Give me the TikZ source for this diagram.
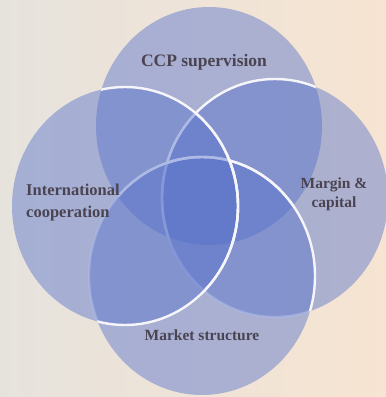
\documentclass[tikz,border=0pt]{standalone}
\usepackage{fontspec}
\setmainfont{Liberation Serif}
\definecolor{ringblue}{RGB}{86,113,203}
\definecolor{labelgray}{RGB}{74,68,82}
\definecolor{bgL}{RGB}{230,227,221}
\definecolor{bgR}{RGB}{247,228,210}
\definecolor{edgewhite}{RGB}{246,246,250}
\newcommand\ringT{(209,126) ellipse [x radius=113pt, y radius=119pt]}
\newcommand\ringR{(275,198) ellipse [x radius=113pt, y radius=119pt]}
\newcommand\ringB{(202,276) ellipse [x radius=113pt, y radius=119pt]}
\newcommand\ringL{(125,206) ellipse [x radius=113pt, y radius=119pt]}
\begin{document}
\begin{tikzpicture}[x=1pt,y=-1pt,
  ring/.style={fill=ringblue, fill opacity=0.45},
  edge/.style={draw=edgewhite, line width=2.4pt},
  lbl/.style={font=\bfseries, text=labelgray, align=center, inner sep=0pt}]
\useasboundingbox (0,0) rectangle (386,397);
\shade[left color=bgL, right color=bgR] (0,0) rectangle (386,397);
% top circle
\fill[ring] \ringT;
% right circle
\fill[ring] \ringR;
\begin{scope}\clip \ringT; \draw[edge] \ringR; \end{scope}
\begin{scope}\clip \ringB; \draw[edge, draw opacity=0.6] \ringR; \end{scope}
\begin{scope}\clip \ringL; \draw[edge, draw opacity=0.6] \ringR; \end{scope}
% bottom circle
\fill[ring] \ringB;
\begin{scope}\clip \ringT; \draw[edge] \ringB; \end{scope}
\begin{scope}\clip \ringR; \draw[edge] \ringB; \end{scope}
\begin{scope}\clip \ringL; \draw[edge, draw opacity=0.6] \ringB; \end{scope}
% left circle
\fill[ring] \ringL;
\begin{scope}\clip \ringT; \draw[edge] \ringL; \end{scope}
\begin{scope}\clip \ringR; \draw[edge] \ringL; \end{scope}
\begin{scope}\clip \ringB; \draw[edge] \ringL; \end{scope}
% labels
\node[lbl, font=\bfseries\fontsize{17.5}{21}\selectfont] (ccp) at (204,62) {CCP supervision};
\node[lbl, align=left, font=\bfseries\fontsize{16.5}{22}\selectfont] (intl) at (73,203) {International\\cooperation};
\node[lbl, font=\bfseries\fontsize{15.5}{19}\selectfont] (margin) at (334,194) {Margin \&\\capital};
\node[lbl, font=\bfseries\fontsize{15.5}{19}\selectfont] (market) at (202,335) {Market structure};
\end{tikzpicture}
\end{document}
